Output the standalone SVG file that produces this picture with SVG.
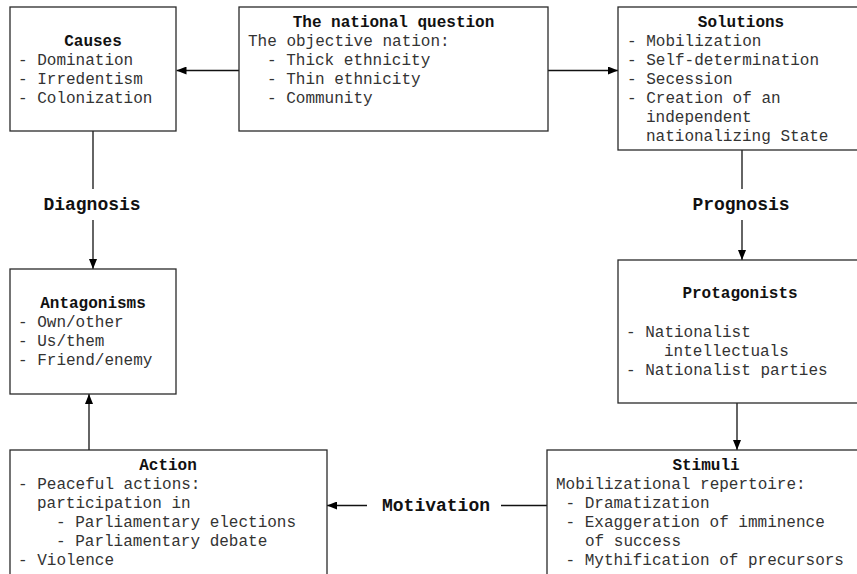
<svg xmlns="http://www.w3.org/2000/svg" width="857" height="574" viewBox="0 0 857 574">
<style>
.box{fill:#fff;stroke:#2a2a2a;stroke-width:1.3}
.t{font-family:"Liberation Mono","Courier New",monospace;font-size:16px;fill:#333}
.h{font-family:"Liberation Mono","Courier New",monospace;font-size:16px;font-weight:bold;fill:#111;text-anchor:middle}
.lbl{font-family:"Liberation Mono","Courier New",monospace;font-size:18px;font-weight:bold;fill:#111;text-anchor:middle}
.c{fill:none;stroke:#111;stroke-width:1.3}
</style>
<defs>
<marker id="ah" viewBox="0 0 10 8" refX="10" refY="4" markerWidth="10" markerHeight="8" markerUnits="userSpaceOnUse" orient="auto">
<path d="M0,0 L10,4 L0,8 z" fill="#000"/>
</marker>
</defs>
<rect width="857" height="574" fill="#fff"/>
<g id="connectors">
<path class="c" d="M239,70.5 H176.5" marker-end="url(#ah)"/>
<path class="c" d="M548,70.5 H618" marker-end="url(#ah)"/>
<path class="c" d="M93,131 V189"/>
<path class="c" d="M93,220 V269" marker-end="url(#ah)"/>
<text class="lbl" x="92" y="210">Diagnosis</text>
<path class="c" d="M742,150 V189"/>
<path class="c" d="M742,220 V260" marker-end="url(#ah)"/>
<text class="lbl" x="741" y="210">Prognosis</text>
<path class="c" d="M737,403 V450" marker-end="url(#ah)"/>
<path class="c" d="M547,505.5 H501"/>
<text class="lbl" x="436" y="511">Motivation</text>
<path class="c" d="M367,505.5 H327" marker-end="url(#ah)"/>
<path class="c" d="M89,450 V394" marker-end="url(#ah)"/>
</g>
<g id="causes">
<rect class="box" x="10" y="7" width="166" height="124"/>
<text class="h" x="93" y="46">Causes</text>
<text class="t" x="18" y="65">- Domination</text>
<text class="t" x="18" y="84">- Irredentism</text>
<text class="t" x="18" y="103">- Colonization</text>
</g>
<g id="national-question">
<rect class="box" x="239" y="7" width="309" height="124"/>
<text class="h" x="393.5" y="27">The national question</text>
<text class="t" x="248" y="46">The objective nation:</text>
<text class="t" x="267" y="65">- Thick ethnicity</text>
<text class="t" x="267" y="84">- Thin ethnicity</text>
<text class="t" x="267" y="103">- Community</text>
</g>
<g id="solutions">
<rect class="box" x="618" y="7" width="246" height="143"/>
<text class="h" x="741" y="27">Solutions</text>
<text class="t" x="627" y="46">- Mobilization</text>
<text class="t" x="627" y="65">- Self-determination</text>
<text class="t" x="627" y="84">- Secession</text>
<text class="t" x="627" y="103">- Creation of an</text>
<text class="t" x="646" y="122">independent</text>
<text class="t" x="646" y="141">nationalizing State</text>
</g>
<g id="antagonisms">
<rect class="box" x="10" y="269" width="166" height="125"/>
<text class="h" x="93" y="308">Antagonisms</text>
<text class="t" x="18" y="327">- Own/other</text>
<text class="t" x="18" y="346">- Us/them</text>
<text class="t" x="18" y="365">- Friend/enemy</text>
</g>
<g id="protagonists">
<rect class="box" x="618" y="260" width="246" height="143"/>
<text class="h" x="740" y="298">Protagonists</text>
<text class="t" x="626" y="337">- Nationalist</text>
<text class="t" x="664" y="356">intellectuals</text>
<text class="t" x="626" y="375">- Nationalist parties</text>
</g>
<g id="action">
<rect class="box" x="10" y="450" width="317" height="140"/>
<text class="h" x="168" y="470">Action</text>
<text class="t" x="18" y="489">- Peaceful actions:</text>
<text class="t" x="37" y="508">participation in</text>
<text class="t" x="56" y="527">- Parliamentary elections</text>
<text class="t" x="56" y="546">- Parliamentary debate</text>
<text class="t" x="18" y="565">- Violence</text>
</g>
<g id="stimuli">
<rect class="box" x="547" y="450" width="318" height="140"/>
<text class="h" x="706" y="470">Stimuli</text>
<text class="t" x="556" y="489">Mobilizational repertoire:</text>
<text class="t" x="565.5" y="508">- Dramatization</text>
<text class="t" x="565.5" y="527">- Exaggeration of imminence</text>
<text class="t" x="585" y="546">of success</text>
<text class="t" x="565.5" y="565">- Mythification of precursors</text>
</g>
</svg>
